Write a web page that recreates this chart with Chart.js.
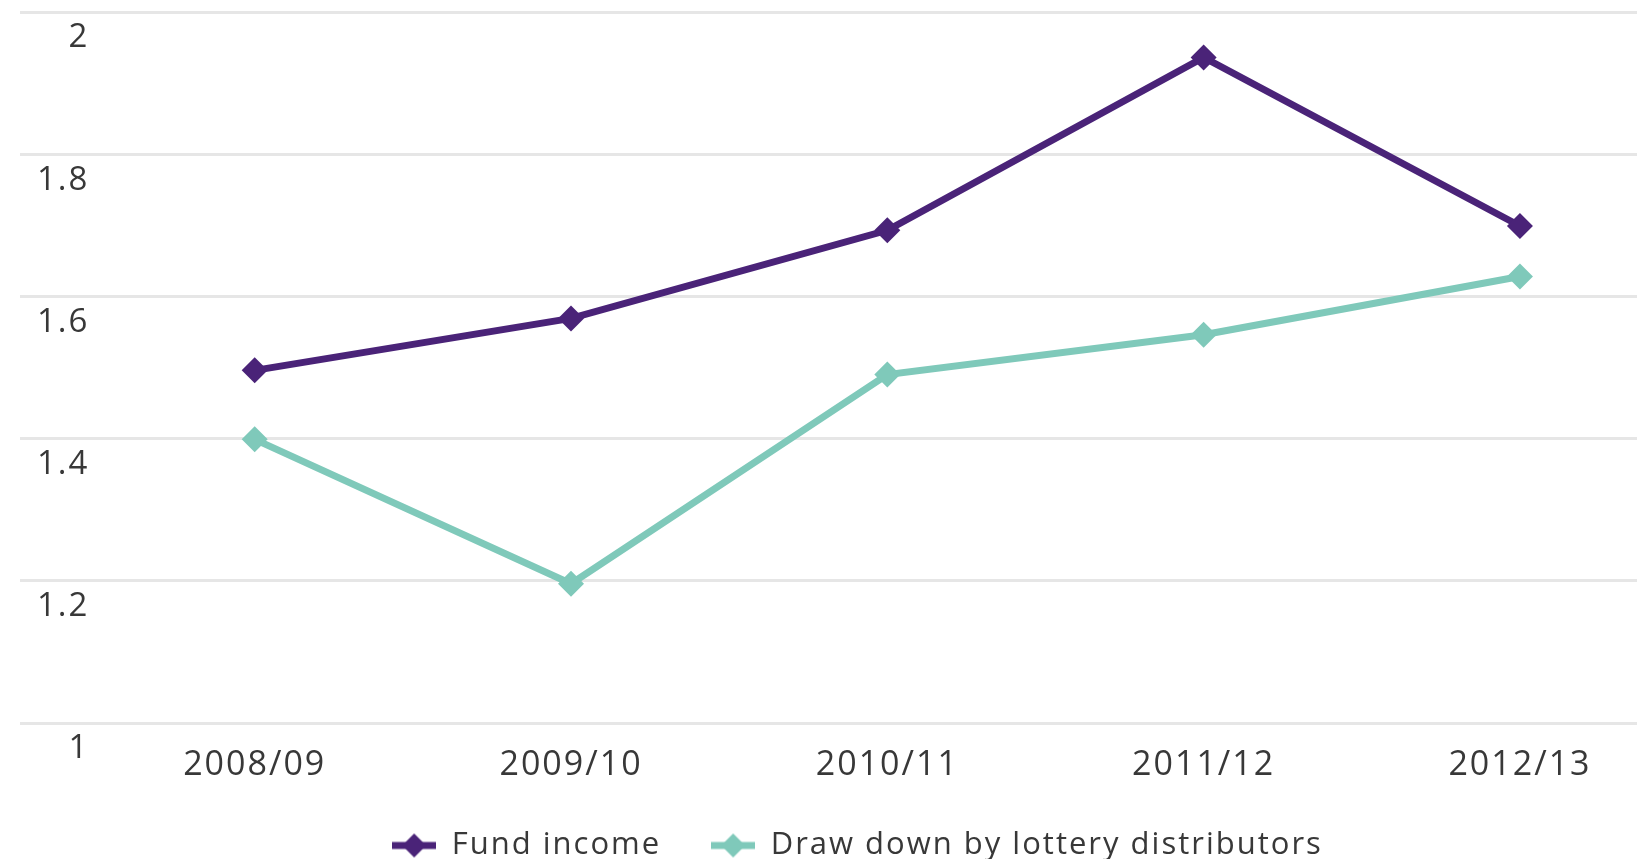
<!DOCTYPE html>
<html>
<head>
<meta charset="utf-8">
<script src="https://cdn.jsdelivr.net/npm/chart.js@4/dist/chart.umd.min.js"></script>
<style>
  html, body { margin: 0; padding: 0; background: #fff; }
  #wrap { width: 1637px; height: 859px; }
</style>
</head>
<body>
<div id="wrap"><canvas id="mycanvas"></canvas></div>
<script>
var years = ["2008/09", "2009/10", "2010/11", "2011/12", "2012/13"];
var fundIncome = [1.496, 1.569, 1.693, 1.936, 1.699];
var drawDown = [1.399, 1.196, 1.490, 1.546, 1.628];
var yTicks = [1, 1.2, 1.4, 1.6, 1.8, 2];

var purple = "#4a2378";
var teal = "#7fc9ba";
var textColor = "#383838";
var fontFamily = "'Open Sans', sans-serif";

// little line-with-diamond icon for the legend
function legendIcon(color) {
	var c = document.createElement("canvas");
	c.width = 44;
	c.height = 26;
	var g = c.getContext("2d");
	g.strokeStyle = color;
	g.lineWidth = 7;
	g.beginPath();
	g.moveTo(0, 13);
	g.lineTo(44, 13);
	g.stroke();
	g.fillStyle = color;
	g.beginPath();
	g.moveTo(22, 1);
	g.lineTo(34, 13);
	g.lineTo(22, 25);
	g.lineTo(10, 13);
	g.closePath();
	g.fill();
	return c;
}

function toPoints(values) {
	return values.map(function(v, i) { return { x: i, y: v }; });
}

var chartdata = {
	datasets: [
		{
			label: "Fund income",
			data: toPoints(fundIncome),
			borderColor: purple,
			backgroundColor: purple,
			borderWidth: 7,
			pointStyle: "rectRot",
			pointRadius: 13,
			pointBorderWidth: 0,
			pointBackgroundColor: purple,
			tension: 0,
			icon: legendIcon(purple)
		},
		{
			label: "Draw down by lottery distributors",
			data: toPoints(drawDown),
			borderColor: teal,
			backgroundColor: teal,
			borderWidth: 7,
			pointStyle: "rectRot",
			pointRadius: 13,
			pointBorderWidth: 0,
			pointBackgroundColor: teal,
			tension: 0,
			icon: legendIcon(teal)
		}
	]
};

// a bit of tracking on all the text (canvas resizes reset it, so set it again each pass)
function track(chart) {
	chart.ctx.letterSpacing = "2px";
}
var spacing = {
	id: "spacing",
	beforeUpdate: track,
	beforeLayout: track,
	beforeDraw: track
};

var ctx = document.getElementById("mycanvas");

var LineGraph = new Chart(ctx, {
	type: "line",
	data: chartdata,
	plugins: [spacing],
	options: {
		responsive: true,
		maintainAspectRatio: false,
		animation: false,
		// negative right padding pushes the legend a little right of centre
		layout: { autoPadding: false, padding: { left: 20, right: -58, top: 12, bottom: -12 } },
		scales: {
			x: {
				type: "linear",
				min: -0.742,
				max: 4.37,
				grid: { display: false },
				border: { display: false },
				afterBuildTicks: function(scale) {
					scale.ticks = years.map(function(y, i) { return { value: i }; });
				},
				afterFit: function(scale) {
					scale.paddingLeft = 0;
					scale.paddingRight = 0;
					scale.height = 57;
				},
				ticks: {
					autoSkip: false,
					maxRotation: 0,
					padding: 14,
					color: textColor,
					font: { family: fontFamily, size: 34 },
					callback: function(v) { return years[v]; }
				}
			},
			y: {
				min: 1,
				max: 2,
				grid: { color: "#e6e6e6", lineWidth: 3, drawTicks: false },
				border: { display: false },
				afterBuildTicks: function(scale) {
					scale.ticks = yTicks.map(function(v) { return { value: v }; });
				},
				afterFit: function(scale) {
					scale.width = 0;
					scale.paddingTop = 0;
					scale.paddingBottom = 0;
				},
				ticks: {
					mirror: true,
					crossAlign: "far",
					padding: 17,
					labelOffset: 26,
					color: textColor,
					font: { family: fontFamily, size: 33 },
					callback: function(v) { return String(+v.toFixed(1)); }
				}
			}
		},
		plugins: {
			tooltip: { enabled: false },
			legend: {
				position: "bottom",
				labels: {
					usePointStyle: true,
					pointStyleWidth: 44,
					padding: 50,
					color: textColor,
					font: { family: fontFamily, size: 31 },
					generateLabels: function(chart) {
						var items = Chart.defaults.plugins.legend.labels.generateLabels(chart);
						items.forEach(function(item) {
							item.pointStyle = chart.data.datasets[item.datasetIndex].icon;
						});
						return items;
					}
				}
			}
		}
	}
});
</script>
</body>
</html>
